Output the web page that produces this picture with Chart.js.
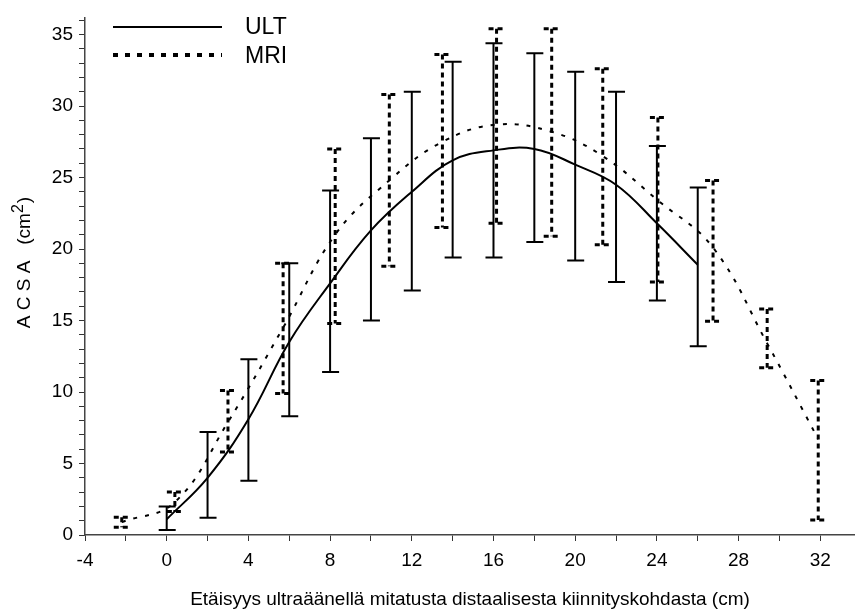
<!DOCTYPE html>
<html>
<head>
<meta charset="utf-8">
<script src="https://cdn.jsdelivr.net/npm/chart.js@4/dist/chart.umd.min.js"></script>
<style>
  html, body { margin: 0; padding: 0; background: #fff; }
  #wrap { width: 855px; height: 615px; }
</style>
</head>
<body>
<div id="wrap"><canvas id="acsaChart" width="855" height="615"></canvas></div>
<script>
// ULT: mittauskohdat (cm), keskiarvot ja hajonnan ylä-/alarajat (cm2)
const ultX = [0, 2, 4, 6, 8, 10, 12, 14, 16, 18, 20, 22, 24, 26];
const ultMean = [1.1, 4.0, 8.1, 13.5, 17.6, 21.3, 24.0, 26.2, 26.9, 27.0, 25.9, 24.5, 21.8, 18.9];
const ultHigh = [2.0, 7.2, 12.3, 19.0, 24.1, 27.75, 31.0, 33.1, 34.4, 33.7, 32.4, 31.0, 27.2, 24.3];
const ultLow = [0.35, 1.2, 3.8, 8.3, 11.4, 15.0, 17.1, 19.4, 19.4, 20.5, 19.2, 17.7, 16.4, 13.2];

// MRI
const mriX = [-2.2, 0.4, 3.0, 5.7, 8.25, 10.9, 13.5, 16.15, 18.85, 21.35, 24.05, 26.75, 29.4, 31.9];
const mriMean = [0.9, 2.3, 7.9, 14.5, 21.0, 24.8, 27.5, 28.7, 28.2, 26.5, 23.4, 20.1, 13.4, 6.7];
const mriHigh = [1.25, 3.0, 10.1, 19.0, 27.0, 30.8, 33.6, 35.4, 35.4, 32.6, 29.2, 24.8, 15.8, 10.8];
const mriLow = [0.55, 1.65, 5.8, 9.9, 14.8, 18.8, 21.5, 21.8, 20.9, 20.3, 17.7, 14.95, 11.7, 1.05];

const xTicks = [-4, 0, 4, 8, 12, 16, 20, 24, 28, 32];
const yTicks = [0, 5, 10, 15, 20, 25, 30, 35];

const FONT = "'Liberation Sans', Arial, sans-serif";

function toPoints(xs, ys) {
  return xs.map((x, i) => ({ x: x, y: ys[i] }));
}

// hajontajanat piirretään skaalojen kautta
const errorBars = {
  id: 'errorBars',
  afterDatasetsDraw(chart) {
    const { ctx, scales: { x, y } } = chart;
    const draw = (xs, lo, hi, style) => {
      ctx.save();
      ctx.strokeStyle = '#000';
      ctx.lineWidth = style.width;
      ctx.setLineDash(style.dash);
      xs.forEach((v, i) => {
        const px = x.getPixelForValue(v);
        const pTop = y.getPixelForValue(hi[i]);
        const pBot = y.getPixelForValue(lo[i]);
        ctx.beginPath();
        ctx.moveTo(px, pTop);
        ctx.lineTo(px, pBot);
        ctx.stroke();
        ctx.beginPath();
        ctx.moveTo(px - 8, pTop);
        ctx.lineTo(px + 9, pTop);
        ctx.moveTo(px - 8, pBot);
        ctx.lineTo(px + 9, pBot);
        ctx.stroke();
      });
      ctx.restore();
    };
    draw(ultX, ultLow, ultHigh, { width: 2, dash: [] });
    draw(mriX, mriLow, mriHigh, { width: 3, dash: [5, 4] });
  }
};

// selite ja y-akselin otsikko (yläindeksillä)
const extras = {
  id: 'extras',
  afterDraw(chart) {
    const ctx = chart.ctx;
    ctx.save();
    ctx.strokeStyle = '#000';
    ctx.lineWidth = 2;
    ctx.beginPath();
    ctx.moveTo(113, 27);
    ctx.lineTo(222, 27);
    ctx.stroke();
    ctx.lineWidth = 4;
    ctx.setLineDash([5, 7]);
    ctx.beginPath();
    ctx.moveTo(113, 55);
    ctx.lineTo(222, 55);
    ctx.stroke();
    ctx.fillStyle = '#000';
    ctx.font = '23px ' + FONT;
    ctx.textBaseline = 'middle';
    ctx.fillText(chart.data.datasets[0].label, 245, 28);
    ctx.fillText(chart.data.datasets[1].label, 245, 57);
    ctx.restore();

    // A C S A (cm2)
    ctx.save();
    ctx.translate(25, 263);
    ctx.rotate(-Math.PI / 2);
    ctx.fillStyle = '#000';
    ctx.textBaseline = 'middle';
    const main = 'A C S A   (cm';
    ctx.font = '19px ' + FONT;
    const w1 = ctx.measureText(main).width;
    ctx.font = '16px ' + FONT;
    const w2 = ctx.measureText('2').width;
    ctx.font = '19px ' + FONT;
    const w3 = ctx.measureText(')').width;
    let left = -(w1 + w2 + w3) / 2;
    ctx.fillText(main, left, 0);
    ctx.font = '16px ' + FONT;
    ctx.fillText('2', left + w1, -6);
    ctx.font = '19px ' + FONT;
    ctx.fillText(')', left + w1 + w2 + 1, 0);
    ctx.restore();
  }
};

const ctx = document.getElementById('acsaChart');
new Chart(ctx, {
  type: 'scatter',
  data: {
    datasets: [{
      label: 'ULT',
      data: toPoints(ultX, ultMean),
      showLine: true,
      borderColor: '#000',
      borderWidth: 2,
      tension: 0.4,
      pointRadius: 0
    }, {
      label: 'MRI',
      data: toPoints(mriX, mriMean),
      showLine: true,
      borderColor: '#000',
      borderWidth: 2,
      borderDash: [4, 8],
      tension: 0.4,
      pointRadius: 0
    }]
  },
  options: {
    responsive: false,
    animation: false,
    layout: { padding: { top: 7, right: 0, left: 0, bottom: 0 } },
    plugins: {
      legend: { display: false },
      tooltip: { enabled: false }
    },
    scales: {
      x: {
        type: 'linear',
        min: -4,
        max: 33.7,
        afterFit(scale) { scale.height = 80; },
        grid: { drawOnChartArea: false, drawTicks: true, tickLength: 6, color: '#333' },
        border: { display: true, color: '#444', width: 1.5 },
        ticks: {
          stepSize: 2,
          includeBounds: false,
          padding: 8,
          color: '#000',
          font: { family: FONT, size: 19 },
          callback: (v) => xTicks.includes(v) ? String(v) : ''
        },
        title: {
          display: true,
          text: 'Etäisyys ultraäänellä mitatusta distaalisesta kiinnityskohdasta (cm)',
          color: '#000',
          font: { family: FONT, size: 19 },
          padding: { top: 0, bottom: 4 }
        }
      },
      y: {
        type: 'linear',
        min: 0,
        max: 36.2,
        afterFit(scale) { scale.width = 85; },
        grid: { drawOnChartArea: false, drawTicks: true, tickLength: 6, color: '#333' },
        border: { display: true, color: '#444', width: 1.5 },
        ticks: {
          stepSize: 1,
          includeBounds: false,
          padding: 6,
          color: '#000',
          font: { family: FONT, size: 19 },
          autoSkip: false,
          callback: (v) => yTicks.includes(v) ? String(v) : ''
        },
        title: { display: false }
      }
    }
  },
  plugins: [errorBars, extras]
});
</script>
</body>
</html>
